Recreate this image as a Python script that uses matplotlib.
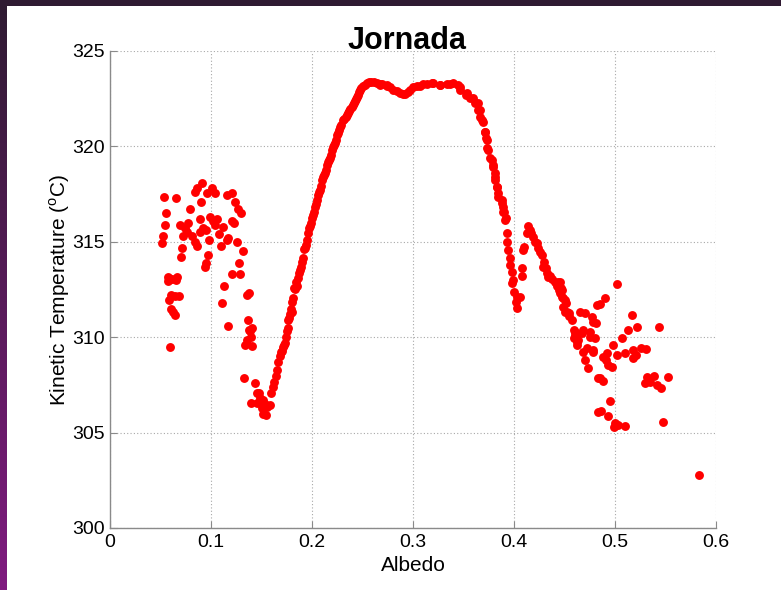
import numpy as np
import matplotlib
matplotlib.use("Agg")
import matplotlib.pyplot as plt
from matplotlib.patches import Rectangle

plt.rcParams["font.family"] = ["Liberation Sans", "DejaVu Sans"]
plt.rcParams["mathtext.fontset"] = "custom"
plt.rcParams["mathtext.rm"] = "Liberation Sans"

# Albedo / kinetic temperature samples, grouped by region of the curve
albedo_cluster = [0.0535, 0.065, 0.055, 0.0545, 0.0525, 0.0515, 0.079, 0.069, 0.074, 0.077,
                  0.072, 0.076, 0.081, 0.084, 0.086, 0.071, 0.070, 0.084, 0.086, 0.091,
                  0.090, 0.089, 0.092, 0.089, 0.095, 0.098, 0.099, 0.102, 0.106, 0.104,
                  0.108, 0.110, 0.101, 0.104, 0.096, 0.097, 0.095, 0.094, 0.112, 0.116,
                  0.121, 0.124, 0.127, 0.130, 0.121, 0.123, 0.117, 0.116, 0.126, 0.132,
                  0.128, 0.121, 0.129, 0.113, 0.111, 0.117, 0.136, 0.138,
                  0.0575, 0.061, 0.066, 0.065, 0.0575, 0.060, 0.064, 0.068, 0.0585, 0.060,
                  0.062, 0.064, 0.059]
temp_cluster = [317.35, 317.3, 316.5, 315.9, 315.3, 314.95, 316.7, 315.9, 315.7, 316.0,
                315.3, 315.5, 315.3, 315.0, 314.8, 314.7, 314.2, 317.6, 317.8, 318.1,
                317.1, 316.2, 315.7, 315.5, 315.6, 315.1, 316.3, 316.1, 316.2, 315.9,
                315.4, 314.8, 317.8, 317.55, 317.55, 314.3, 313.9, 313.7, 315.8, 317.45,
                317.55, 317.1, 316.7, 316.5, 316.1, 316.0, 315.2, 315.1, 315.0, 314.5,
                313.9, 313.3, 313.3, 312.7, 311.8, 310.6, 312.2, 312.3,
                313.15, 313.05, 313.15, 313.0, 312.95, 312.2, 312.15, 312.15, 311.95, 311.5,
                311.3, 311.15, 309.5]

albedo_trough = [0.137, 0.138, 0.141, 0.139, 0.140, 0.136, 0.134, 0.141, 0.133, 0.144,
                 0.146, 0.148, 0.149, 0.140, 0.146, 0.151, 0.153, 0.155, 0.150, 0.151,
                 0.154, 0.158]
temp_trough = [310.9, 310.4, 310.5, 310.3, 310.0, 309.85, 309.6, 309.55, 307.85, 307.6,
               307.1, 307.1, 306.8, 306.55, 306.55, 306.7, 306.5, 306.35, 306.3, 306.0,
               305.9, 306.45]

albedo_rise = [0.159, 0.161, 0.162, 0.164, 0.165, 0.166, 0.168, 0.169, 0.171, 0.173,
               0.175, 0.176, 0.176, 0.178, 0.180, 0.180, 0.181, 0.182, 0.183, 0.185,
               0.186, 0.187, 0.189, 0.190, 0.191, 0.192, 0.194, 0.195, 0.196, 0.197,
               0.199, 0.200, 0.202, 0.203, 0.205, 0.206, 0.208, 0.209, 0.210, 0.212,
               0.214, 0.215, 0.217, 0.219, 0.220, 0.222, 0.224, 0.225, 0.227, 0.229,
               0.231, 0.234, 0.236, 0.238, 0.241, 0.243, 0.245, 0.247, 0.249, 0.252,
               0.254, 0.258, 0.261, 0.264, 0.269, 0.274,
               0.204, 0.207, 0.211, 0.216, 0.221, 0.226, 0.232, 0.240, 0.244, 0.250,
               0.256,
               0.170, 0.172, 0.174, 0.177, 0.179, 0.184, 0.188, 0.193, 0.198, 0.201,
               0.213, 0.218, 0.223, 0.228, 0.235, 0.237, 0.242, 0.246, 0.248]
temp_rise = [307.1, 307.4, 307.65, 307.95, 308.3, 308.7, 309.0, 309.2, 309.5, 309.7,
             310.3, 310.5, 310.9, 311.2, 311.3, 311.85, 312.05, 312.6, 312.5, 312.7,
             313.1, 313.35, 313.7, 313.95, 314.15, 314.6, 314.85, 315.1, 315.45, 315.7,
             316.0, 316.25, 316.55, 316.8, 317.2, 317.45, 317.7, 317.95, 318.25, 318.5,
             318.75, 319.0, 319.3, 319.55, 319.8, 320.05, 320.35, 320.6, 320.85, 321.1,
             321.4, 321.55, 321.75, 321.95, 322.15, 322.4, 322.6, 322.85, 323.05, 323.2,
             323.3, 323.4, 323.4, 323.3, 323.25, 323.2,
             317.0, 317.6, 318.4, 319.2, 319.95, 320.7, 321.45, 322.05, 322.5, 323.15,
             323.35,
             309.3, 309.6, 310.0, 311.0, 311.5, 312.9, 313.5, 314.7, 315.85, 316.4,
             318.6, 319.4, 320.2, 321.0, 321.65, 321.85, 322.3, 322.7, 322.95]

albedo_plateau = [0.267, 0.274, 0.280, 0.287, 0.292, 0.295, 0.300, 0.307, 0.314, 0.320,
                  0.327, 0.334, 0.340, 0.3465, 0.3535, 0.359, 0.364, 0.366, 0.368, 0.371,
                  0.373, 0.374, 0.378, 0.379, 0.381, 0.383, 0.384,
                  0.267, 0.277, 0.284, 0.290, 0.297, 0.304, 0.310, 0.319, 0.327, 0.337,
                  0.345, 0.347, 0.352, 0.356, 0.361, 0.364, 0.366, 0.369, 0.371, 0.372,
                  0.373, 0.376, 0.379, 0.381, 0.381, 0.383, 0.384, 0.388, 0.389, 0.390,
                  0.392]
temp_plateau = [323.27, 323.17, 322.96, 322.80, 322.75, 322.85, 323.11, 323.17, 323.27, 323.32,
                323.22, 323.27, 323.32, 323.11, 322.80, 322.54, 322.27, 321.9, 321.38, 320.75,
                320.34, 319.81, 319.29, 318.92, 318.4, 317.87, 317.35,
                323.22, 323.11, 322.9, 322.75, 322.96, 323.17, 323.27, 323.32, 323.22, 323.27,
                323.22, 322.96, 322.7, 322.54, 322.27, 321.9, 321.53, 321.27, 320.75, 320.43,
                319.91, 319.39, 319.02, 318.6, 318.24, 317.87, 317.55, 317.19, 316.82, 316.56,
                316.24]

albedo_descent = [0.388, 0.389, 0.391, 0.393, 0.393, 0.394, 0.396, 0.396, 0.398, 0.399,
                  0.398, 0.400, 0.403, 0.406, 0.402, 0.403,
                  0.409, 0.410, 0.408, 0.408, 0.414, 0.413, 0.417, 0.419, 0.421, 0.423,
                  0.426, 0.428, 0.430, 0.429, 0.432, 0.433, 0.434, 0.438, 0.441, 0.443,
                  0.445, 0.448, 0.450, 0.449, 0.452, 0.454, 0.457, 0.460, 0.461, 0.462,
                  0.416, 0.424, 0.436, 0.446, 0.444, 0.447]
temp_descent = [317.03, 316.56, 316.14, 315.46, 314.99, 314.57, 314.15, 313.78, 313.42, 313.0,
                312.84, 312.37, 312.11, 312.11, 311.84, 311.53,
                314.57, 314.73, 313.63, 313.21, 315.83, 315.46, 315.46, 315.25, 314.99, 314.94,
                314.47, 314.31, 313.94, 313.68, 313.63, 313.37, 313.16, 313.05, 312.89, 312.68,
                312.47, 312.11, 311.95, 311.58, 311.32, 311.11, 310.9, 310.27, 310.0, 309.75,
                315.6, 314.7, 313.2, 312.3, 312.9, 312.6]

albedo_tail = [0.446, 0.448, 0.449, 0.451, 0.450, 0.454, 0.459, 0.460, 0.459, 0.463,
               0.462, 0.467, 0.465, 0.470, 0.468, 0.475, 0.477, 0.478, 0.481, 0.480,
               0.475, 0.468, 0.472, 0.478, 0.470, 0.473, 0.482, 0.485, 0.490, 0.502,
               0.517, 0.522, 0.513, 0.507, 0.498, 0.510, 0.502, 0.518, 0.521, 0.518,
               0.526, 0.531, 0.492, 0.488, 0.491, 0.493, 0.497, 0.485, 0.488, 0.544,
               0.532, 0.539, 0.552, 0.530, 0.535, 0.542, 0.546, 0.495, 0.486, 0.493,
               0.500, 0.503, 0.510, 0.499, 0.548, 0.583, 0.483, 0.483, 0.478]
temp_tail = [312.89, 312.47, 312.05, 311.79, 311.32, 311.27, 310.38, 310.12, 309.96, 309.85,
             309.59, 310.22, 311.32, 311.27, 310.38, 310.27, 311.06, 310.8, 310.74, 309.96,
             310.01, 309.22, 309.43, 309.33, 308.8, 308.39, 311.69, 311.74, 312.05, 312.79,
             311.16, 310.53, 310.38, 309.96, 309.59, 309.17, 309.07, 309.33, 309.07, 308.91,
             309.43, 309.38, 309.17, 308.96, 308.8, 308.54, 308.44, 307.86, 307.71, 310.53,
             307.91, 307.97, 307.91, 307.6, 307.65, 307.5, 307.34, 306.66, 306.13, 305.87,
             305.5, 305.4, 305.35, 305.3, 305.56, 302.78, 306.08, 307.86, 309.22]

x_ticks = [0, 0.1, 0.2, 0.3, 0.4, 0.5, 0.6]
x_tick_labels = ["0", "0.1", "0.2", "0.3", "0.4", "0.5", "0.6"]
y_ticks = [300, 305, 310, 315, 320, 325]
y_tick_labels = ["300", "305", "310", "315", "320", "325"]

albedo = np.concatenate([albedo_cluster, albedo_trough, albedo_rise,
                         albedo_plateau, albedo_descent, albedo_tail])
temperature = np.concatenate([temp_cluster, temp_trough, temp_rise,
                              temp_plateau, temp_descent, temp_tail])

W, H = 781, 590
fig = plt.figure(figsize=(W / 100, H / 100), dpi=100, facecolor="white")

# slide frame: dark top band and purple gradient strip on the left
fig.patches.append(Rectangle((0, 1 - 6 / H), 1, 6 / H, transform=fig.transFigure,
                             facecolor="#2f1a32", edgecolor="none", zorder=0))
strip = fig.add_axes([0, 0, 7 / W, 1 - 6 / H])
grad = np.linspace(0, 1, 256).reshape(-1, 1)
top_c = np.array([0x2f, 0x1a, 0x32]) / 255
bot_c = np.array([0x80, 0x1a, 0x80]) / 255
img = top_c[None, None, :] * (1 - grad[:, :, None]) + bot_c[None, None, :] * grad[:, :, None]
strip.imshow(img, aspect="auto", origin="upper", extent=[0, 1, 0, 1])
strip.set_axis_off()

ax = fig.add_axes([110 / W, 1 - 528 / H, (716 - 110) / W, (528 - 51) / H])
ax.plot(albedo, temperature, "o", color="#ff0000", markersize=6.4,
        markeredgewidth=0, zorder=3)

ax.set_xlim(0, 0.6)
ax.set_ylim(300, 325)
ax.set_xticks(x_ticks)
ax.set_xticklabels(x_tick_labels)
ax.set_yticks(y_ticks)
ax.set_yticklabels(y_tick_labels)
ax.tick_params(direction="in", length=5, width=0.8, color="#8a8a8a",
               labelsize=14, labelcolor="black", pad=4)
ax.grid(True, color="#a8a8a8", linestyle=(0, (1, 2)), linewidth=0.8)
for side in ("top", "right"):
    ax.spines[side].set_visible(False)
for side in ("left", "bottom"):
    ax.spines[side].set_color("#8a8a8a")
    ax.spines[side].set_linewidth(1.0)

ax.set_xlabel("Albedo", fontsize=15, labelpad=4)
ax.set_ylabel(r"Kinetic Temperature ($^{\mathrm{o}}$C)", fontsize=15, labelpad=0)
ax.text(0.49, 1.004, "Jornada", transform=ax.transAxes, ha="center", va="baseline",
        fontsize=22, fontweight="bold")

fig.savefig("out.png", dpi=100, facecolor="white")
